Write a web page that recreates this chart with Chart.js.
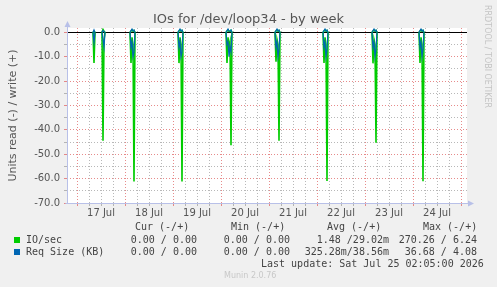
<!DOCTYPE html>
<html>
<head>
<meta charset="utf-8">
<script src="https://cdn.jsdelivr.net/npm/chart.js@4.4.1/dist/chart.umd.min.js"></script>
<style>
    html, body { margin: 0; padding: 0; background: #f0f0f0; }
    #wrap { position: relative; width: 497px; height: 287px; overflow: hidden; }
    #chart { position: absolute; left: 0; top: 0; }
    .title { position: absolute; left: 0; top: 11px; width: 497px; text-align: center;
             font: 13px 'DejaVu Sans', sans-serif; line-height: 16px; color: #555; }
    .side { position: absolute; left: 483px; top: 5px; writing-mode: vertical-rl;
            font: 8px 'DejaVu Sans', sans-serif; color: #c4c4c4; white-space: pre; }
    .mono { position: absolute; white-space: pre; font: 10px 'DejaVu Sans Mono', monospace;
            line-height: 12px; color: #444; }
    .r { text-align: right; }
    .sw { position: absolute; left: 14px; width: 6px; height: 6px; }
    .munin { position: absolute; left: 224px; top: 271px; font: 8px 'DejaVu Sans', sans-serif;
             color: #c8c8c8; white-space: pre; }
</style>
</head>
<body>
<div id="wrap">
    <canvas id="chart" width="497" height="287"></canvas>
    <div class="title">IOs for /dev/loop34 - by week</div>
    <div class="side">RRDTOOL / TOBI OETIKER</div>
    <div id="legend"></div>
    <div class="munin">Munin 2.0.76</div>
</div>
<script>
// Time axis: hours since 17 Jul 00:00, one picture pixel = 30 min
const dayLabels = ['17 Jul', '18 Jul', '19 Jul', '20 Jul', '21 Jul', '22 Jul', '23 Jul', '24 Jul'];

// Samples (null rows break the line between bursts)
const sampleHours = [
    8, 8.5, 9, 10,
    12.5, 13, 13.5, 14, 20,
    26.5, 27, 27.5, 28, 28.5, 29, 40,
    50.5, 51, 51.5, 52, 52.5, 53, 60,
    74.5, 75, 75.5, 76, 76.5, 77, 77.5, 85,
    99, 99.5, 100, 100.5, 101, 101.5, 110,
    123, 123.5, 124, 124.5, 125, 125.5, 135,
    147.5, 148, 148.5, 149, 149.5, 150, 160,
    171, 171.5, 172, 172.5, 173, 173.5
];
const readIO = [
    0, -12.5, 0, null,
    0, -44.5, -3, 0, null,
    0, -12.5, -2, -5, -61.2, 0, null,
    0, -12.6, -2, -5, -61.2, 0, null,
    0, -12.5, -2, -6, -4, -46.3, 0, null,
    0, -12, -3, -5, -44.5, 0, null,
    0, -12.5, -2, -5, -61, 0, null,
    0, -12.7, -3, -5, -45.3, 0, null,
    0, -12.5, -2, -5, -61.1, 0
];
const writeIO = [
    0, 0.4, 0, null,
    0, 1.2, 0.5, 0, null,
    0, 0.6, 1.0, 0.5, 0.8, 0, null,
    0, 0.6, 1.0, 0.5, 0.8, 0, null,
    0, 0.6, 1.0, 0.5, 0.4, 0.8, 0, null,
    0, 0.6, 1.0, 0.5, 0.8, 0, null,
    0, 0.6, 1.0, 0.5, 0.8, 0, null,
    0, 0.6, 1.0, 0.5, 0.8, 0, null,
    0, 0.6, 1.0, 0.5, 0.8, 0
];
const readSize = [
    0, -4, 0, null,
    0, -3, -6, 0, null,
    0, -6, -4, -10, -8, 0, null,
    0, -6, -4, -10, -8, 0, null,
    0, -5, -4, -10, -6, -8, 0, null,
    0, -6, -4, -10, -7, 0, null,
    0, -6, -4, -10, -7, 0, null,
    0, -6, -4, -10, -7, 0, null,
    0, -6, -4, -10, -7, 0
];
const writeSize = [
    0, 1.0, 0, null,
    0, 0.8, 0.4, 0, null,
    0, 0.8, 1.4, 0.6, 1.0, 0, null,
    0, 0.8, 1.4, 0.6, 1.0, 0, null,
    0, 0.8, 1.4, 0.6, 0.5, 1.0, 0, null,
    0, 0.8, 1.4, 0.6, 1.0, 0, null,
    0, 0.8, 1.4, 0.6, 1.0, 0, null,
    0, 0.8, 1.4, 0.6, 1.0, 0, null,
    0, 0.8, 1.4, 0.6, 1.0, 0
];

// Legend table
const legendHeaders = ['Cur (-/+)', 'Min (-/+)', 'Avg (-/+)', 'Max (-/+)'];
const legendRows = [
    { name: 'IO/sec', color: '#00cc00', cells: ['0.00 / 0.00', '0.00 / 0.00', '1.48 /29.02m', '270.26 / 6.24'] },
    { name: 'Req Size (KB)', color: '#0066b3', cells: ['0.00 / 0.00', '0.00 / 0.00', '325.28m/38.56m', '36.68 / 4.08'] }
];
const lastUpdate = 'Last update: Sat Jul 25 02:05:00 2026';

const colors = { green: '#00cc00', blue: '#0066b3' };
const majorGrid = 'rgba(225,110,110,0.8)';
const minorGrid = 'rgba(160,160,160,0.75)';
const axisColor = '#b8c0e8';

const series = (values) => sampleHours.map((h, i) => ({ x: h, y: values[i] }));

const lineSet = (values, color, width) => ({
    data: series(values),
    borderColor: color,
    borderWidth: width,
    pointRadius: 0,
    tension: 0,
    spanGaps: false,
    fill: false
});

// plot background, zero line and axis arrows
const frame = {
    id: 'frame',
    beforeDraw(chart) {
        const { ctx, chartArea: a } = chart;
        ctx.save();
        ctx.fillStyle = '#fff';
        ctx.fillRect(a.left, a.top, a.right - a.left, a.bottom - a.top);
        ctx.restore();
    },
    beforeDatasetsDraw(chart) {
        const { ctx, chartArea: a, scales } = chart;
        const y0 = Math.round(scales.y.getPixelForValue(0)) + 0.5;
        ctx.save();
        ctx.strokeStyle = '#000';
        ctx.lineWidth = 1;
        ctx.beginPath();
        ctx.moveTo(a.left, y0);
        ctx.lineTo(a.right, y0);
        ctx.stroke();
        ctx.restore();
    },
    afterDraw(chart) {
        const { ctx, chartArea: a } = chart;
        const l = Math.round(a.left) + 0.5, b = Math.round(a.bottom) + 0.5;
        ctx.save();
        ctx.strokeStyle = axisColor;
        ctx.fillStyle = axisColor;
        ctx.lineWidth = 1;
        ctx.beginPath();
        ctx.moveTo(l, b);
        ctx.lineTo(l, a.top - 2);
        ctx.moveTo(l - 2, b);
        ctx.lineTo(a.right + 2, b);
        ctx.stroke();
        ctx.beginPath();
        ctx.moveTo(l - 3, a.top - 1);
        ctx.lineTo(l + 3, a.top - 1);
        ctx.lineTo(l, a.top - 7);
        ctx.closePath();
        ctx.fill();
        ctx.beginPath();
        ctx.moveTo(a.right + 1, b - 3);
        ctx.lineTo(a.right + 1, b + 3);
        ctx.lineTo(a.right + 7, b);
        ctx.closePath();
        ctx.fill();
        ctx.restore();
    }
};

const tickFont = { family: 'DejaVu Sans', size: 10 };

new Chart(document.getElementById('chart').getContext('2d'), {
    type: 'line',
    data: {
        datasets: [
            lineSet(readSize, colors.blue, 1.2),
            lineSet(writeSize, colors.blue, 1.2),
            lineSet(readIO, colors.green, 1.6),
            lineSet(writeIO, colors.green, 1.6)
        ]
    },
    options: {
        responsive: false,
        animation: false,
        layout: { padding: { left: 7, right: 30, top: 28, bottom: 64 } },
        plugins: { legend: { display: false }, tooltip: { enabled: false } },
        scales: {
            x: {
                type: 'linear',
                min: -5,
                max: 195,
                afterBuildTicks: (s) => {
                    const t = [];
                    for (let h = 0; h <= 192; h += 6) t.push({ value: h });
                    s.ticks = t;
                },
                afterFit: (s) => { s.height = 20; },
                grid: {
                    color: (c) => (c.tick && c.tick.value % 24 === 0 ? majorGrid : minorGrid),
                    lineWidth: 1,
                    tickLength: 3
                },
                border: { display: false, dash: [1, 2] },
                ticks: {
                    autoSkip: false,
                    maxRotation: 0,
                    padding: 1,
                    color: '#555',
                    font: tickFont,
                    callback: (v) => (v % 24 === 12 ? dayLabels[(v - 12) / 24] : '')
                }
            },
            y: {
                min: -70,
                max: 1.8,
                afterBuildTicks: (s) => {
                    const t = [];
                    for (let v = -70; v <= 0; v += 5) t.push({ value: v });
                    s.ticks = t;
                },
                afterFit: (s) => { s.width = 60; },
                grid: {
                    color: (c) => (c.tick && c.tick.value % 10 === 0 ? majorGrid : minorGrid),
                    lineWidth: 1,
                    tickLength: 3
                },
                border: { display: false, dash: [1, 2] },
                ticks: {
                    autoSkip: false,
                    padding: 4,
                    color: '#555',
                    font: tickFont,
                    callback: (v) => (v % 10 === 0 ? v.toFixed(1) : '')
                },
                title: {
                    display: true,
                    text: 'Units read (-) / write (+)',
                    color: '#555',
                    font: { family: 'DejaVu Sans', size: 11 },
                    padding: 0
                }
            }
        }
    },
    plugins: [frame]
});

// Legend (HTML text)
const legend = document.getElementById('legend');
const headerLeft = [135, 231, 327, 423];
const cellRight = [197, 290, 389, 477];
const addText = (txt, style, cls) => {
    const d = document.createElement('div');
    d.className = 'mono' + (cls ? ' ' + cls : '');
    d.textContent = txt;
    Object.assign(d.style, style);
    legend.appendChild(d);
};
legendHeaders.forEach((h, i) => addText(h, { left: headerLeft[i] + 'px', top: '221px' }));
legendRows.forEach((row, r) => {
    const top = 234 + r * 12;
    const sw = document.createElement('div');
    sw.className = 'sw';
    sw.style.top = (237 + r * 12) + 'px';
    sw.style.background = row.color;
    legend.appendChild(sw);
    addText(row.name, { left: '26px', top: top + 'px' });
    row.cells.forEach((c, i) => addText(c, { right: (497 - cellRight[i]) + 'px', top: top + 'px' }, 'r'));
});
addText(lastUpdate, { left: '261px', top: '258px' });
</script>
</body>
</html>
